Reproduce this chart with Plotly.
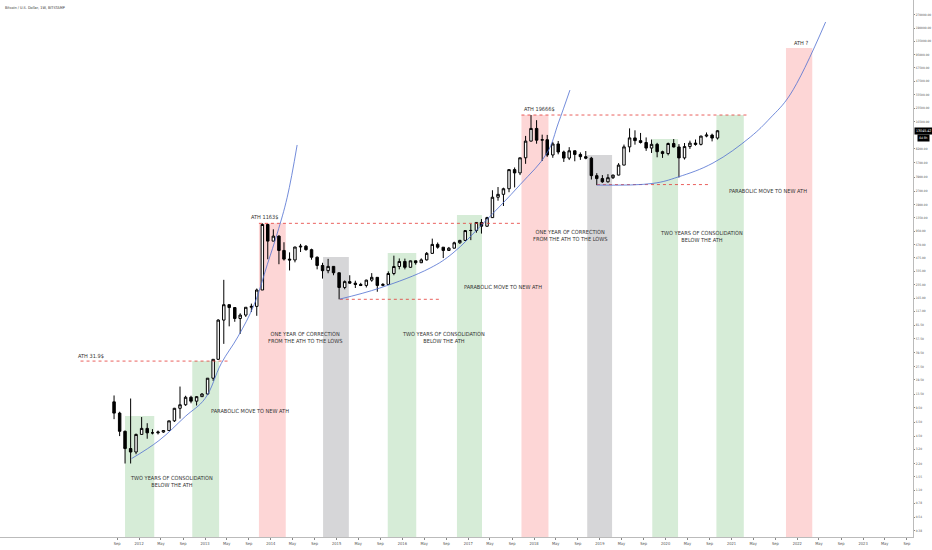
import numpy as np
import pandas as pd
import plotly.graph_objects as go

# monthly BTC/USD candles (Bitstamp), Aug 2011 .. Oct 2020
months = pd.date_range('2011-08-01', '2020-10-01', freq='MS') + pd.Timedelta(days=14)

opens = [
    11.0, 8.2, 5.1, 3.25, 2.97,  # 2011
    4.7, 5.5, 4.9, 4.9, 5.0, 5.2, 6.7, 9.3, 10.2, 12.4, 11.2, 12.6,  # 2012
    13.5, 20.4, 33.4, 93, 139, 129, 97, 106, 130, 133, 204, 1128,  # 2013
    731, 833, 573, 457, 447, 627, 640, 585, 480, 387, 338, 378,  # 2014
    320, 218, 254, 244, 236, 230, 264, 284, 230, 236, 314, 377,  # 2015
    430, 369, 437, 416, 448, 531, 671, 624, 573, 608, 700, 745,  # 2016
    963, 966, 1190, 1079, 1350, 2300, 2480, 2870, 4730, 4340, 6440, 9950,  # 2017
    13860, 10200, 10320, 6930, 9240, 7490, 6390, 7730, 7030, 6630, 6370, 4040,  # 2018
    3740, 3440, 3830, 4100, 5320, 8560, 10820, 10080, 9590, 8300, 9150, 7550,  # 2019
    7190, 9350, 8540, 6420, 8630, 9450, 9140, 11350, 11650, 10780,  # 2020
]
highs = [
    13.0, 8.5, 5.2, 12.0, 4.8,
    7.4, 6.3, 5.4, 5.2, 5.2, 6.7, 9.4, 16.4, 12.9, 12.9, 12.8, 13.8,
    20.5, 33.4, 95, 266, 140, 129, 111, 130, 143, 212, 1163, 1153,
    995, 850, 710, 545, 630, 680, 660, 600, 490, 415, 460, 381,
    320, 262, 300, 260, 246, 267, 317, 285, 244, 332, 500, 465,
    463, 440, 440, 466, 550, 780, 705, 626, 628, 720, 755, 975,
    1150, 1200, 1300, 1380, 2760, 3000, 2950, 4750, 5000, 6450, 11400, 19666,
    17200, 11780, 11700, 9760, 9990, 7760, 8500, 7760, 7410, 7680, 6600, 4310,
    4100, 4200, 4140, 5600, 9090, 13880, 13200, 12320, 10950, 10370, 9510, 7750,
    9580, 10500, 9190, 9470, 10070, 10380, 11440, 12470, 12090, 13250,
]
lows = [
    7.0, 4.5, 2.2, 2.2, 2.8,
    4.7, 4.2, 4.7, 4.7, 4.9, 5.2, 6.5, 7.1, 9.9, 10.6, 10.0, 12.6,
    13.2, 19.0, 33, 50, 79, 89, 65, 101, 115, 104, 204, 455,
    731, 400, 440, 340, 420, 550, 570, 450, 350, 275, 316, 300,
    160, 208, 240, 215, 226, 218, 253, 195, 225, 236, 300, 350,
    350, 365, 395, 412, 440, 527, 600, 470, 565, 605, 680, 740,
    750, 910, 890, 1060, 1340, 2100, 1830, 2620, 2970, 4100, 5500, 9900,
    9300, 5920, 6600, 6440, 7050, 5780, 6070, 5880, 6100, 6200, 3650, 3150,
    3350, 3370, 3700, 4080, 5320, 7440, 9070, 9350, 7710, 7300, 6520, 6420,
    6860, 8450, 3850, 6150, 8120, 8830, 8890, 10990, 9880, 10370,
]
closes = [
    8.2, 5.1, 3.25, 2.97, 4.7,
    5.5, 4.9, 4.9, 5.0, 5.2, 6.7, 9.3, 10.2, 12.4, 11.2, 12.6, 13.5,
    20.4, 33.4, 93, 139, 129, 97, 106, 130, 133, 204, 1128, 731,
    833, 573, 457, 447, 627, 640, 585, 480, 387, 338, 378, 320,
    218, 254, 244, 236, 230, 264, 284, 230, 236, 314, 377, 430,
    369, 437, 416, 448, 531, 671, 624, 573, 608, 700, 745, 963,
    966, 1190, 1079, 1350, 2300, 2480, 2870, 4730, 4340, 6440, 9950, 13860,
    10200, 10320, 6930, 9240, 7490, 6390, 7730, 7030, 6630, 6370, 4040, 3740,
    3440, 3830, 4100, 5320, 8560, 10820, 10080, 9590, 8300, 9150, 7550, 7190,
    9350, 8540, 6420, 8630, 9450, 9140, 11350, 11650, 10780, 13045.42,
]
last_price = 13045.42

# shaded zones
box_start = ['2011-10-15', '2012-10-22', '2013-10-27', '2014-10-18', '2015-10-12', '2016-10-30',
             '2017-10-23', '2018-10-23', '2019-10-19', '2020-10-09', '2021-10-30']
box_end = ['2012-03-25', '2013-03-20', '2014-03-25', '2015-03-10', '2016-03-18', '2017-03-18',
           '2018-03-22', '2019-03-10', '2020-03-10', '2021-03-10', '2022-03-25']
box_top = [7.6, 31.9, 1163, 483, 536, 1445, 19666, 6920, 10500, 19666, 113000]
box_kind = ['cons', 'cons', 'ath', 'corr', 'cons', 'cons', 'ath', 'corr', 'cons', 'cons', 'ath']

# horizontal levels
level_start = ['2011-02-10', '2013-10-27', '2017-10-23', '2015-01-19', '2018-12-16']
level_end = ['2013-05-20', '2017-10-27', '2021-04-05', '2016-07-26', '2020-08-25']
level_price = [31.9, 1163, 19666, 160, 3200]

# parabolic curves
curve1_x = ['2011-11-20', '2012-04-20', '2012-09-13', '2013-01-01', '2013-04-01', '2013-07-02',
            '2013-10-01', '2013-12-13', '2014-02-06', '2014-04-02', '2014-05-27']
curve1_y = [2.5, 4.0, 7.5, 12, 30, 60, 140, 400, 900, 2300, 9000]
curve2_x = ['2015-01-19', '2015-08-29', '2016-06-03', '2016-10-08', '2017-03-26', '2017-10-16',
            '2018-03-14', '2018-05-16', '2018-07-19']
curve2_y = [161, 215, 362, 536, 1172, 3200, 7300, 16000, 37700]
curve3_x = ['2018-12-16', '2019-10-23', '2020-03-10', '2020-09-20', '2021-04-16', '2021-08-04',
            '2021-11-21', '2022-06-07']
curve3_y = [3160, 3300, 3900, 5620, 11100, 18200, 33200, 223000]

# notes
note_text = ['ATH 31.9$', 'PARABOLIC MOVE TO NEW ATH', 'TWO YEARS OF CONSOLIDATION<br>BELOW THE ATH',
             'ATH 1163$', 'ONE YEAR OF CORRECTION<br>FROM THE ATH TO THE LOWS',
             'TWO YEARS OF CONSOLIDATION<br>BELOW THE ATH', 'PARABOLIC MOVE TO NEW ATH', 'ATH 19666$',
             'ONE YEAR OF CORRECTION<br>FROM THE ATH TO THE LOWS',
             'TWO YEARS OF CONSOLIDATION<br>BELOW THE ATH', 'PARABOLIC MOVE TO NEW ATH', 'ATH ?']
note_x = ['2011-04-08', '2013-09-08', '2012-07-01', '2013-11-28', '2014-07-08', '2016-08-15',
          '2017-07-12', '2018-02-02', '2018-07-19', '2020-07-16', '2021-07-23', '2022-01-19']
note_y = [36.5, 8.7, 1.36, 1370, 58.3, 59.8, 221, 23000, 857, 815, 2700, 129000]

x_tick_dates = ['2011-09-01',
                '2012-01-01', '2012-05-01', '2012-09-01', '2013-01-01', '2013-05-01', '2013-09-01',
                '2014-01-01', '2014-05-01', '2014-09-01', '2015-01-01', '2015-05-01', '2015-09-01',
                '2016-01-01', '2016-05-01', '2016-09-01', '2017-01-01', '2017-05-01', '2017-09-01',
                '2018-01-01', '2018-05-01', '2018-09-01', '2019-01-01', '2019-05-01', '2019-09-01',
                '2020-01-01', '2020-05-01', '2020-09-01', '2021-01-01', '2021-05-01', '2021-09-01',
                '2022-01-01', '2022-05-01', '2022-09-01', '2023-01-01', '2023-05-01', '2023-09-01']
x_tick_text = ['Sep',
               '2012', 'May', 'Sep', '2013', 'May', 'Sep', '2014', 'May', 'Sep', '2015', 'May', 'Sep',
               '2016', 'May', 'Sep', '2017', 'May', 'Sep', '2018', 'May', 'Sep', '2019', 'May', 'Sep',
               '2020', 'May', 'Sep', '2021', 'May', 'Sep', '2022', 'May', 'Sep', '2023', 'May', 'Sep']

y_ticks = [0.38, 0.54, 0.78, 1.1, 1.55, 2.2, 3.2, 4.5, 6.5, 9.5, 13.5, 19.5, 27.5, 39.5, 57.5, 81.5,
           117, 165, 235, 335, 475, 670, 950, 1350, 1900, 2700, 3900, 5700, 8200, 16500, 23500,
           33500, 47500, 67500, 95000, 135000, 190000, 270000]

kind_color = {'cons': 'rgba(200,230,201,0.75)', 'ath': 'rgba(252,200,200,0.75)',
              'corr': 'rgba(200,200,203,0.75)'}
narrow = 'Liberation Sans Narrow, DejaVu Sans Condensed, sans-serif'
note_font = dict(family=narrow, size=5.6, color='#333')

fig = go.Figure()

# zones sit under the candles
for s, e, top, kind in zip(box_start, box_end, box_top, box_kind):
    fig.add_shape(type='rect', xref='x', yref='y', x0=s, x1=e, y0=0.1, y1=top,
                  fillcolor=kind_color[kind], line=dict(width=0), layer='below')

for s, e, p in zip(level_start, level_end, level_price):
    fig.add_trace(go.Scatter(x=[s, e], y=[p, p], mode='lines', hoverinfo='skip', showlegend=False,
                             line=dict(color='#e53935', width=0.8, dash='dot')))

for cx, cy in [(curve1_x, curve1_y), (curve2_x, curve2_y), (curve3_x, curve3_y)]:
    fig.add_trace(go.Scatter(x=cx, y=cy, mode='lines', hoverinfo='skip', showlegend=False,
                             line=dict(color='#4f6fd0', width=0.8, shape='spline', smoothing=1.1)))

fig.add_trace(go.Candlestick(x=months, open=opens, high=highs, low=lows, close=closes,
                             increasing=dict(line=dict(color='#000', width=1), fillcolor='white'),
                             decreasing=dict(line=dict(color='#000', width=1), fillcolor='#000'),
                             whiskerwidth=0, showlegend=False))

for t, nx, ny in zip(note_text, note_x, note_y):
    fig.add_annotation(x=nx, y=np.log10(ny), text=t, showarrow=False, font=note_font,
                       align='center')

fig.add_annotation(xref='paper', yref='paper', x=0.003, y=0.995, xanchor='left', yanchor='top',
                   text='Bitcoin / U.S. Dollar, 1W, BITSTAMP', showarrow=False,
                   font=dict(family=narrow, size=3.8, color='#333'))

fig.add_annotation(xref='paper', x=1, xanchor='left', xshift=1, y=np.log10(last_price),
                   text=f'{last_price:.2f}', showarrow=False, bgcolor='black', borderpad=1,
                   font=dict(family=narrow, size=3.6, color='white'))
fig.add_annotation(xref='paper', x=1, xanchor='left', xshift=4, y=np.log10(last_price), yshift=-7,
                   text='4d 8h', showarrow=False, bgcolor='black', borderpad=1,
                   font=dict(family=narrow, size=3.3, color='white'))

fig.update_layout(
    width=932, height=550,
    margin=dict(l=0, r=19, t=0, b=13),
    paper_bgcolor='white', plot_bgcolor='white',
    xaxis=dict(type='date', range=['2009-11-20', '2023-10-05'], rangeslider=dict(visible=False),
               showgrid=False, zeroline=False, tickmode='array', tickvals=x_tick_dates,
               ticktext=x_tick_text, ticks='outside', ticklen=2, tickcolor='#888',
               showline=True, linecolor='#bbb', linewidth=1, automargin=False,
               tickfont=dict(family=narrow, size=4, color='#555')),
    yaxis=dict(type='log', range=[-0.491, 5.598], side='right', showgrid=False, zeroline=False,
               tickmode='array', tickvals=y_ticks, ticktext=[f'{v:.2f}' for v in y_ticks],
               ticks='outside', ticklen=1, tickcolor='#888', showline=True, linecolor='#bbb',
               linewidth=1, automargin=False,
               tickfont=dict(family=narrow, size=3.2, color='#555')),
)

fig.write_html("out.html", config={'displayModeBar': False},
               post_script="document.body.style.margin='0px';")
